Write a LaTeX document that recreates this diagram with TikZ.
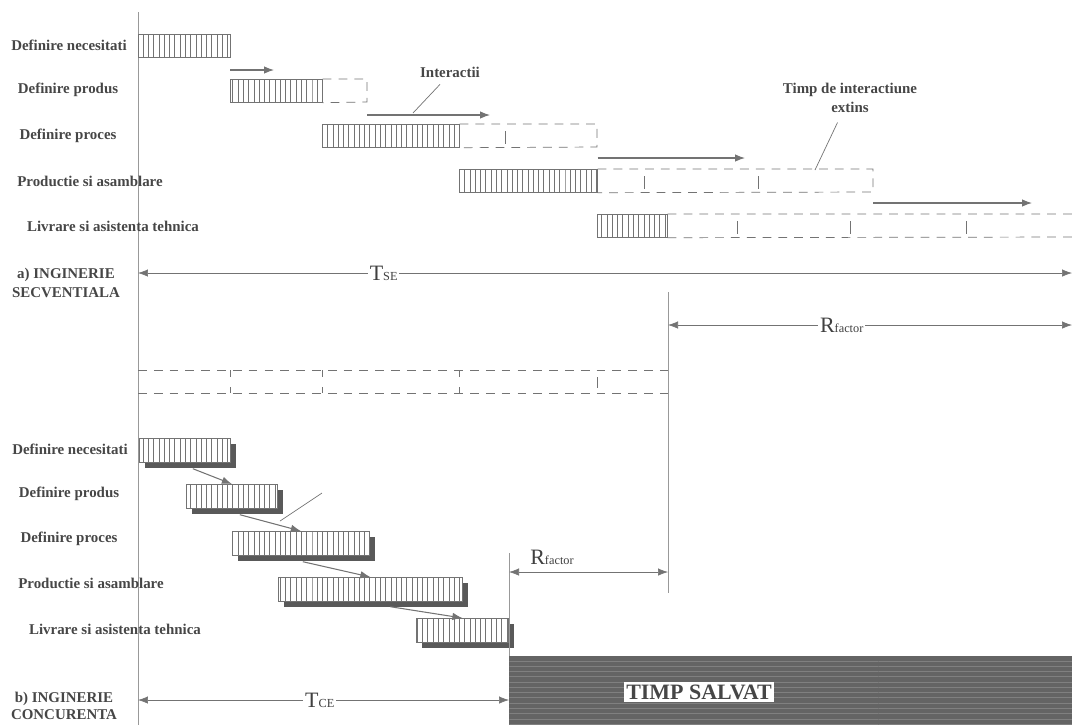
\documentclass[tikz,border=0pt]{standalone}
\usepackage{fontspec}
\setmainfont{Liberation Serif}
\usetikzlibrary{arrows.meta,patterns,shadows}
\definecolor{inkgray}{RGB}{70,70,70}
\definecolor{linegray}{RGB}{115,115,115}
\definecolor{savedgray}{RGB}{100,100,100}
\newcommand\dimtext[2]{{\mdseries\fontsize{12.5}{13}\selectfont #1}{\mdseries\fontsize{7}{8}\selectfont #2}}

\begin{document}
\begin{tikzpicture}[
  x=0.02cm, y=-0.02cm,
  font=\fontsize{8.5}{11}\selectfont\bfseries, text=inkgray,
  lbl/.style={align=center, inner sep=1pt},
  hbar/.style={draw=linegray, preaction={fill=white}, pattern=vertical lines, pattern color=linegray, minimum height=0.46cm, inner sep=0pt, anchor=north west},
  sbar/.style={general shadow={fill=black!65, shadow xshift=0.12cm, shadow yshift=-0.12cm}, hbar, minimum height=0.48cm},
  ext/.style={draw=linegray, dash pattern=on 5pt off 4pt},
  tick/.style={draw=linegray, thin},
  lead/.style={draw=linegray, thin},
  axisline/.style={draw=black!40, thin},
  iarr/.style={-{Latex[length=2mm,width=1.5mm]}, linegray, semithick},
  dim/.style={{Latex[length=2mm,width=1.5mm]}-{Latex[length=2mm,width=1.5mm]}, linegray},
  dimlbl/.style={fill=white, inner sep=1pt, text=black!75},
  saved/.style={fill=savedgray, postaction={pattern=horizontal lines, pattern color=black!50}, inner sep=0pt, anchor=north west}
]
\useasboundingbox (0,0) rectangle (1072,725);
\coordinate (axtop) at (138,12); \coordinate (axbot) at (138,725);
\draw[axisline] (axtop) -- (axbot);

% a) inginerie secventiala
\node[lbl] at (69,45)  (la1) {Definire necesitati};
\node[lbl] at (68,90)  (la2) {Definire produs};
\node[lbl] at (68,136) (la3) {Definire proces};
\node[lbl] at (90,181) (la4) {Productie si asamblare};
\node[lbl] at (113,226)(la5) {Livrare si asistenta tehnica};
\node[hbar, minimum width=1.84cm] at (138,34)  (b1) {};
\node[hbar, minimum width=1.84cm] at (230,79)  (b2) {};
\node[hbar, minimum width=2.74cm] at (322,124) (b3) {};
\node[hbar, minimum width=2.76cm] at (459,169) (b4) {};
\node[hbar, minimum width=1.40cm] at (597,214) (b5) {};
\coordinate (e2) at (367,79); \coordinate (e3) at (597,124); \coordinate (e4) at (873,169);
\draw[ext] (b2.north east) -- (e2) -- (367,102) -- (b2.south east);
\draw[ext] (b3.north east) -- (e3) -- (597,147) -- (b3.south east);
\draw[ext] (b4.north east) -- (e4) -- (873,192) -- (b4.south east);
\draw[ext] (b5.north east) -- (1072,214) (b5.south east) -- (1072,237);
\draw[tick] (505,131) -- (505,144);
\draw[tick] (644,176) -- (644,189) (758,176) -- (758,189);
\draw[tick] (737,221) -- (737,234) (850,221) -- (850,234) (966,221) -- (966,234);
\coordinate (i1) at (274,70); \coordinate (i2) at (490,115);
\coordinate (i3) at (745,158); \coordinate (i4) at (1032,203);
\draw[iarr] (b2.north west |- i1) -- (i1);
\draw[iarr] (e2 |- i2) -- (i2);
\draw[iarr] (b4.north east |- i3) -- (i3);
\draw[iarr] (e4 |- i4) -- (i4);
\node[lbl] at (450,72) (inter) {Interactii};
\coordinate (interp) at (413,113);
\draw[lead] ([xshift=-0.2cm,yshift=-0.1cm]inter.south) -- (interp);
\node[lbl] at (850,98) (timp) {Timp de interactiune\\extins};
\coordinate (timpp) at (815,170);
\draw[lead] ([xshift=-0.25cm,yshift=-0.15cm]timp.south) -- (timpp);
\node[lbl] at (66,283) (seq) {a) INGINERIE\\SECVENTIALA};
\coordinate (tseL) at (138,273); \coordinate (tseR) at (1072,273);
\draw[dim] (tseL) -- node[dimlbl, pos=0.263] (tse) {\dimtext{T}{SE}} (tseR);
\coordinate (rv1top) at (668,292); \coordinate (rv1bot) at (668,593);
\draw[axisline] (rv1top) -- (rv1bot);
\coordinate (ruL) at (668,325); \coordinate (ruR) at (1072,325);
\draw[dim] (ruL) -- node[dimlbl, pos=0.43] (rfu) {\dimtext{R}{factor}} (ruR);

% banda intermediara
\draw[ext] (138,370) -- (668,370) (138,393) -- (668,393);
\draw[tick] (230,370) -- (230,377) (230,387) -- (230,393);
\draw[tick] (322,370) -- (322,377) (322,387) -- (322,393);
\draw[tick] (459,370) -- (459,377) (459,387) -- (459,393);
\draw[tick] (597,377) -- (597,388);

% b) inginerie concurenta
\node[lbl] at (70,449)  (lb1) {Definire necesitati};
\node[lbl] at (69,494)  (lb2) {Definire produs};
\node[lbl] at (69,539)  (lb3) {Definire proces};
\node[lbl] at (91,583)  (lb4) {Productie si asamblare};
\node[lbl] at (115,629) (lb5) {Livrare si asistenta tehnica};
\node[sbar, minimum width=1.82cm] at (139,438) (c1) {};
\node[sbar, minimum width=1.82cm] at (186,484) (c2) {};
\node[sbar, minimum width=2.74cm] at (232,531) (c3) {};
\node[sbar, minimum width=3.68cm] at (278,577) (c4) {};
\node[sbar, minimum width=1.84cm] at (416,618) (c5) {};
\draw[iarr] ([shift={(8,6)}]c1.south) -- (c2.north);
\draw[iarr] ([shift={(8,6)}]c2.south) -- (c3.north);
\draw[iarr] ([shift={(2,6)}]c3.south) -- (c4.north);
\draw[iarr] ([shift={(20,5)}]c4.south) -- (c5.north);
\coordinate (lq1) at (322,493); \coordinate (lq2) at (280,521);
\draw[lead] (lq1) -- (lq2);

\node[saved, minimum width=11.26cm, minimum height=1.38cm] at (509,656) (salvat) {};
\node[fill=white, inner sep=1.5pt, font=\fontsize{12.5}{14}\selectfont\bfseries] at (699,692) (salvlbl) {TIMP SALVAT};
\coordinate (rv2top) at (509,553);
\draw[axisline] (rv2top) -- (salvat.north west);
\coordinate (rlL) at (509,572); \coordinate (rlR) at (668,572);
\draw[dim] (rlL) -- (rlR);
\node[dimlbl] at (552,557) (rfl) {\dimtext{R}{factor}};
\node[lbl, font=\fontsize{8.5}{10}\selectfont\bfseries] at (64,706) (conc) {b) INGINERIE\\CONCURENTA};
\coordinate (tceL) at (138,700); \coordinate (tceR) at (509,700);
\draw[dim] (tceL) -- node[dimlbl, pos=0.49] (tce) {\dimtext{T}{CE}} (tceR);
\end{tikzpicture}
\end{document}
